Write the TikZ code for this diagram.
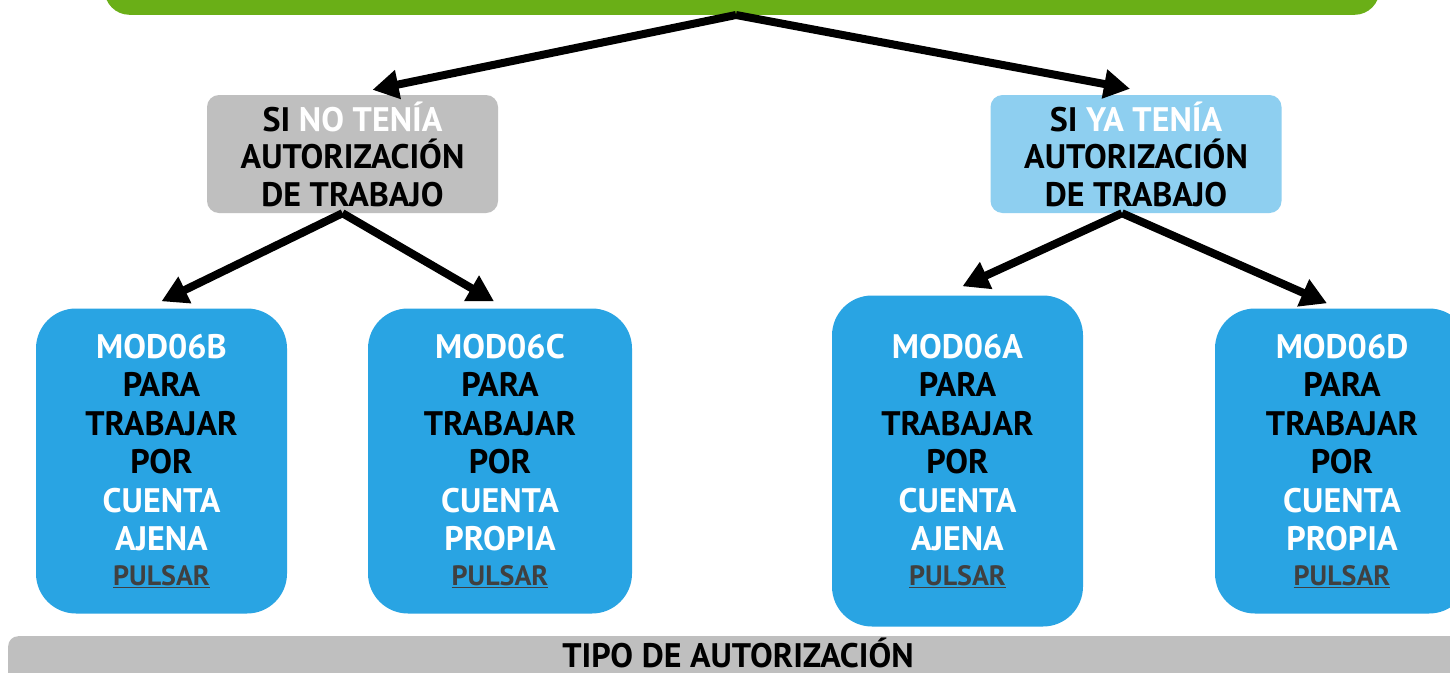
\documentclass[tikz,border=0pt]{standalone}
\usepackage{fontspec}
\setmainfont{PT Sans}
\usetikzlibrary{arrows.meta}
\definecolor{verde}{HTML}{6AAF17}
\definecolor{gris}{HTML}{BFBFBF}
\definecolor{celeste}{HTML}{8ECFF0}
\definecolor{azul}{HTML}{29A4E3}
\definecolor{enlace}{HTML}{404040}
\newcommand{\pulsar}{{\fontsize{28}{28}\selectfont\color{enlace}\underline{PULSAR}}}
\newcommand{\blanco}[1]{\textcolor{white}{#1}}

\begin{document}
\begin{tikzpicture}[x=1pt,y=-1pt,
  caja/.style={rounded corners=12pt, align=center, inner sep=0pt, minimum width=291pt, minimum height=118pt, font=\bfseries\fontsize{34}{37.5}\selectfont},
  modelo/.style={fill=azul, rounded corners=40pt, align=center, inner sep=0pt, font=\bfseries\fontsize{34}{38.5}\selectfont},
  flecha/.style={line width=8pt, -{Triangle[length=26pt,width=28pt]}}]
\clip (0,0) rectangle (1450,672);
\fill[white] (0,0) rectangle (1450,672);

\node[fill=verde, rounded corners=25pt, minimum width=1275pt, minimum height=60pt, anchor=south] (tipo) at (742,15) {};

\node[caja, fill=gris] (nota) at (352.5,154) {SI \blanco{NO TENÍA}\\AUTORIZACIÓN\\DE TRABAJO};
\node[caja, fill=celeste] (yata) at (1136,154) {SI \blanco{YA TENÍA}\\AUTORIZACIÓN\\DE TRABAJO};

\node[modelo, minimum width=251pt, minimum height=305pt] (modb) at (161.5,461) {\blanco{MOD06B}\\PARA\\TRABAJAR\\POR\\\blanco{CUENTA}\\\blanco{AJENA}\\[-4pt]\pulsar};
\node[modelo, minimum width=264pt, minimum height=305pt] (modc) at (500,461) {\blanco{MOD06C}\\PARA\\TRABAJAR\\POR\\\blanco{CUENTA}\\\blanco{PROPIA}\\[-4pt]\pulsar};
\node[modelo, minimum width=251pt, minimum height=331pt] (moda) at (957.5,461) {\blanco{MOD06A}\\PARA\\TRABAJAR\\POR\\\blanco{CUENTA}\\\blanco{AJENA}\\[-4pt]\pulsar};
\node[modelo, minimum width=254pt, minimum height=305pt] (modd) at (1342,461) {\blanco{MOD06D}\\PARA\\TRABAJAR\\POR\\\blanco{CUENTA}\\\blanco{PROPIA}\\[-4pt]\pulsar};

\node[fill=gris, rounded corners=10pt, minimum width=1460pt, minimum height=64pt, anchor=north west, inner sep=0pt] (pie) at (8,636) {};
\node[font=\bfseries\fontsize{34}{36}\selectfont, inner sep=0pt, anchor=base] (titulo) at (738,667) {TIPO DE AUTORIZACIÓN};

\draw[flecha] ([xshift=-6pt]tipo.south) -- ([xshift=20pt,yshift=5pt]nota.north);
\draw[flecha] ([xshift=-6pt]tipo.south) -- ([xshift=-6pt,yshift=6pt]yata.north);
\draw[flecha] ([xshift=-10pt]nota.south) -- ([yshift=7pt]modb.north);
\draw[flecha] ([xshift=-10pt]nota.south) -- ([xshift=-6pt,yshift=7pt]modc.north);
\draw[flecha] ([xshift=-14pt]yata.south) -- ([xshift=5pt,yshift=9pt]moda.north);
\draw[flecha] ([xshift=-14pt]yata.south) -- ([xshift=-15pt,yshift=5pt]modd.north);
\end{tikzpicture}
\end{document}
